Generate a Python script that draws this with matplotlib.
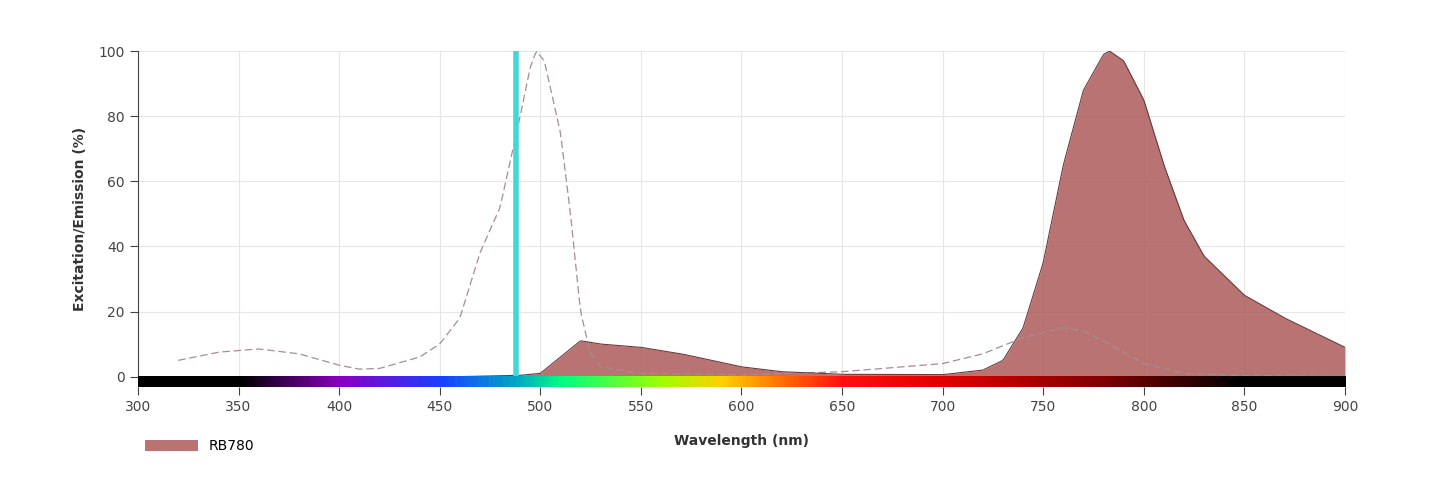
import numpy as np
import matplotlib
matplotlib.use("Agg")
from matplotlib import pyplot
from matplotlib.colors import LinearSegmentedColormap

# excitation (dashed) and emission (filled) spectra
ex_nm = [320, 340, 360, 380, 400, 410, 420, 440, 450, 460, 470, 480, 490, 495, 498, 502, 510, 515, 520, 525, 530, 550, 600, 650, 700, 720, 740, 760, 770, 780, 800, 820, 850, 900]
ex_val = [5, 7.5, 8.5, 7, 3.5, 2.3, 2.5, 6, 10, 18, 38, 52, 80, 95, 100, 97, 75, 50, 20, 7, 3, 1, 0.5, 1.5, 4, 7, 12, 15, 14, 11, 4, 1, 0.3, 0]

em_nm = [460, 490, 500, 510, 520, 530, 550, 570, 600, 620, 650, 700, 720, 730, 740, 750, 760, 770, 780, 783, 790, 800, 810, 820, 830, 850, 870, 900]
em_val = [0, 0.4, 1, 6, 11, 10, 9, 7, 3, 1.5, 0.7, 0.6, 2, 5, 15, 35, 65, 88, 99, 100, 97, 85, 65, 48, 37, 25, 18, 9]

laser_nm = 488
xticks = [300, 350, 400, 450, 500, 550, 600, 650, 700, 750, 800, 850, 900]
yticks = [0, 20, 40, 60, 80, 100]

fig = pyplot.figure(figsize=(14.4, 5.01), dpi=100)
ax = fig.add_axes([0.0958, 0.2275, 0.8382, 0.6705])

ax.grid(True, color="#e6e6e6", linewidth=0.8)
ax.set_axisbelow(True)

ex_x = np.linspace(320, 900, 600)
ax.plot(ex_x, np.interp(ex_x, ex_nm, ex_val), color="#a88c90", linestyle=(0, (6, 3)), linewidth=0.9)

em_x = np.linspace(460, 900, 600)
em_y = np.interp(em_x, em_nm, em_val)
ax.fill_between(em_x, 0, em_y, color="#b06060", alpha=0.88, linewidth=0, label="RB780")
ax.plot(em_x, em_y, color="#6b3a3a", linewidth=0.8)

ax.axvline(laser_nm, color="#45d6dc", linewidth=4, zorder=5)

# visible spectrum strip under the zero line
spec = LinearSegmentedColormap.from_list("spec", [
    (0.0, "#000000"), (50/600, "#000000"), (100/600, "#8a00c0"), (150/600, "#1a40ff"),
    (190/600, "#00b0c0"), (210/600, "#00ff80"), (260/600, "#a0ff00"), (290/600, "#ffd000"),
    (320/600, "#ff7000"), (350/600, "#ff1010"), (400/600, "#e00000"), (480/600, "#800000"),
    (550/600, "#000000"), (1.0, "#000000")])
ax.imshow(np.linspace(0, 1, 600)[None, :], cmap=spec, aspect="auto",
          extent=[300, 900, -3.2, 0], zorder=6)

ax.set_xlim(300, 900)
ax.set_ylim(-3.2, 100)
ax.set_xticks(xticks)
ax.set_yticks(yticks)
for side in ["top", "right", "bottom"]:
    ax.spines[side].set_visible(False)
ax.spines["left"].set_color("#444444")
ax.spines["left"].set_bounds(0, 100)
ax.tick_params(colors="#444444", labelsize=10, length=6)

ax.set_xlabel("Wavelength (nm)", fontsize=10, fontweight="bold", color="#333333", labelpad=14)
ax.set_ylabel("Excitation/Emission (%)", fontsize=10, fontweight="bold", color="#333333", labelpad=8)

fig.legend(loc="lower left", bbox_to_anchor=(0.092, 0.07), frameon=False, fontsize=10,
           handlelength=3.8, handleheight=0.9)

fig.savefig("out.png")
